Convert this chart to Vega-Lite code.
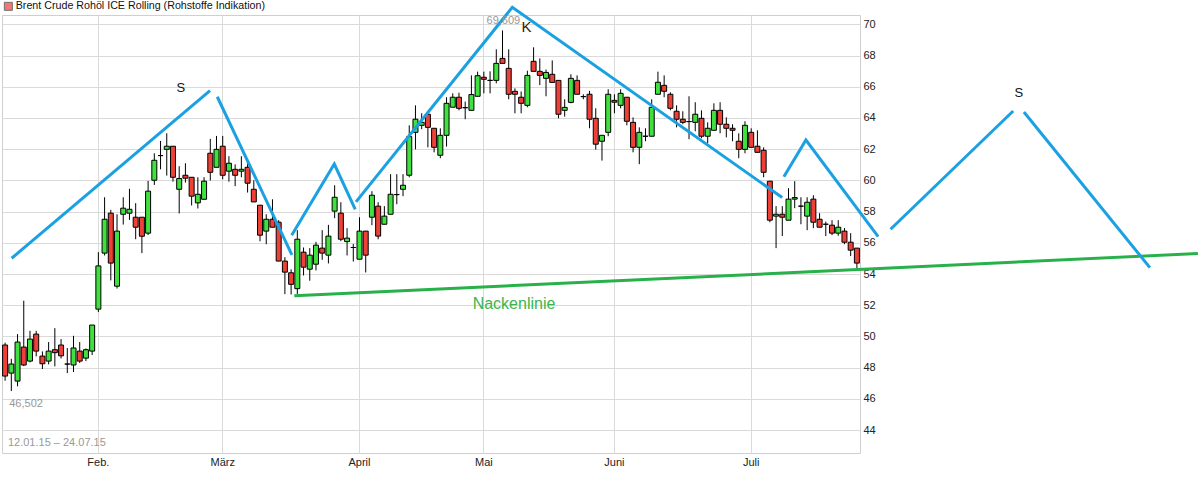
{
  "$schema": "https://vega.github.io/schema/vega-lite/v6.json",
  "width": 858,
  "height": 438,
  "autosize": "none",
  "padding": {"left": 2, "top": 15, "right": 338, "bottom": 37},
  "background": "white",
  "config": {
    "font": "Liberation Sans",
    "view": {"stroke": "#cfcfcf"},
    "axis": {"labelFont": "Liberation Sans", "labelFontSize": 11, "labelColor": "#222222", "gridColor": "#dadada", "domain": false, "ticks": false},
    "text": {"font": "Liberation Sans"}
  },
  "datasets": {
    "ohlc": [
      {"d":"2015-01-12","o":49.45,"h":49.6,"l":47.16,"c":47.46},
      {"d":"2015-01-13","o":47.65,"h":48.57,"l":46.5,"c":48.23},
      {"d":"2015-01-14","o":47.14,"h":50.15,"l":46.8,"c":49.64},
      {"d":"2015-01-15","o":49.32,"h":52.29,"l":48.1,"c":48.17},
      {"d":"2015-01-16","o":48.42,"h":50.36,"l":48.34,"c":49.83},
      {"d":"2015-01-19","o":50.15,"h":50.36,"l":48.72,"c":49.06},
      {"d":"2015-01-20","o":48.74,"h":49.04,"l":47.91,"c":48.25},
      {"d":"2015-01-21","o":48.42,"h":49.64,"l":48.21,"c":49.06},
      {"d":"2015-01-22","o":49.15,"h":50.53,"l":48.08,"c":48.96},
      {"d":"2015-01-23","o":49.45,"h":49.83,"l":48.59,"c":48.76},
      {"d":"2015-01-26","o":48.23,"h":49.26,"l":47.65,"c":48.23},
      {"d":"2015-01-27","o":48.17,"h":50.04,"l":47.72,"c":49.26},
      {"d":"2015-01-28","o":49.06,"h":49.64,"l":48.3,"c":48.42},
      {"d":"2015-01-29","o":48.61,"h":49.23,"l":48.42,"c":49.15},
      {"d":"2015-01-30","o":49.06,"h":50.73,"l":48.81,"c":50.73},
      {"d":"2015-02-02","o":51.75,"h":55.4,"l":51.56,"c":54.52},
      {"d":"2015-02-03","o":55.34,"h":58.92,"l":55.19,"c":57.51},
      {"d":"2015-02-04","o":57.9,"h":58.11,"l":53.59,"c":54.7},
      {"d":"2015-02-05","o":53.22,"h":57.83,"l":53.07,"c":56.75},
      {"d":"2015-02-06","o":57.83,"h":58.92,"l":57.17,"c":58.22},
      {"d":"2015-02-09","o":57.9,"h":59.46,"l":57.47,"c":58.15},
      {"d":"2015-02-10","o":57.64,"h":58.54,"l":56.23,"c":57.0},
      {"d":"2015-02-11","o":57.64,"h":57.64,"l":55.34,"c":56.42},
      {"d":"2015-02-12","o":56.62,"h":59.97,"l":56.5,"c":59.31},
      {"d":"2015-02-13","o":60.01,"h":61.74,"l":59.71,"c":61.29},
      {"d":"2015-02-16","o":61.59,"h":62.53,"l":60.71,"c":61.59},
      {"d":"2015-02-17","o":61.99,"h":63.02,"l":60.31,"c":62.19},
      {"d":"2015-02-18","o":62.19,"h":62.19,"l":59.92,"c":60.2},
      {"d":"2015-02-19","o":59.43,"h":60.91,"l":57.88,"c":60.12},
      {"d":"2015-02-20","o":60.33,"h":61.1,"l":59.86,"c":60.14},
      {"d":"2015-02-23","o":60.2,"h":60.2,"l":58.39,"c":58.99},
      {"d":"2015-02-24","o":58.56,"h":60.2,"l":58.2,"c":59.11},
      {"d":"2015-02-25","o":58.79,"h":60.2,"l":58.79,"c":59.95},
      {"d":"2015-02-26","o":61.74,"h":62.66,"l":59.99,"c":60.52},
      {"d":"2015-02-27","o":60.84,"h":62.85,"l":60.84,"c":61.99},
      {"d":"2015-03-02","o":62.19,"h":62.85,"l":60.07,"c":60.33},
      {"d":"2015-03-03","o":60.59,"h":61.55,"l":59.92,"c":61.1},
      {"d":"2015-03-04","o":60.71,"h":61.03,"l":59.63,"c":60.33},
      {"d":"2015-03-05","o":60.59,"h":61.55,"l":60.2,"c":60.71},
      {"d":"2015-03-06","o":60.84,"h":61.35,"l":59.22,"c":59.82},
      {"d":"2015-03-09","o":59.43,"h":60.01,"l":58.62,"c":58.62},
      {"d":"2015-03-10","o":58.41,"h":58.41,"l":56.1,"c":56.49},
      {"d":"2015-03-11","o":56.75,"h":57.83,"l":55.91,"c":57.51},
      {"d":"2015-03-12","o":57.51,"h":58.79,"l":57.0,"c":57.0},
      {"d":"2015-03-13","o":57.32,"h":57.45,"l":54.83,"c":54.83},
      {"d":"2015-03-16","o":54.83,"h":55.08,"l":52.71,"c":54.12},
      {"d":"2015-03-17","o":54.08,"h":54.3,"l":52.69,"c":53.34},
      {"d":"2015-03-18","o":53.06,"h":56.81,"l":52.72,"c":56.23},
      {"d":"2015-03-19","o":55.4,"h":55.7,"l":53.91,"c":54.44},
      {"d":"2015-03-20","o":54.31,"h":55.66,"l":53.57,"c":55.21},
      {"d":"2015-03-23","o":54.63,"h":56.06,"l":54.23,"c":55.85},
      {"d":"2015-03-24","o":55.66,"h":56.81,"l":54.91,"c":55.34},
      {"d":"2015-03-25","o":55.21,"h":57.15,"l":54.68,"c":56.43},
      {"d":"2015-03-26","o":58.03,"h":59.69,"l":57.58,"c":58.92},
      {"d":"2015-03-27","o":57.9,"h":58.6,"l":56.11,"c":56.23},
      {"d":"2015-03-30","o":56.08,"h":56.94,"l":55.19,"c":56.3},
      {"d":"2015-03-31","o":55.7,"h":55.93,"l":54.8,"c":55.7},
      {"d":"2015-04-01","o":54.95,"h":57.64,"l":54.95,"c":56.75},
      {"d":"2015-04-02","o":56.75,"h":56.75,"l":54.1,"c":55.21},
      {"d":"2015-04-07","o":57.64,"h":59.31,"l":57.13,"c":59.05},
      {"d":"2015-04-08","o":58.35,"h":58.6,"l":56.23,"c":56.43},
      {"d":"2015-04-09","o":57.19,"h":58.35,"l":57.19,"c":57.71},
      {"d":"2015-04-10","o":57.83,"h":60.4,"l":57.83,"c":59.11},
      {"d":"2015-04-13","o":59.09,"h":60.4,"l":58.47,"c":59.09},
      {"d":"2015-04-14","o":59.43,"h":60.4,"l":58.99,"c":59.69},
      {"d":"2015-04-15","o":60.33,"h":63.53,"l":60.2,"c":62.81},
      {"d":"2015-04-16","o":63.08,"h":64.81,"l":61.99,"c":63.92},
      {"d":"2015-04-17","o":63.53,"h":64.3,"l":63.28,"c":63.72},
      {"d":"2015-04-20","o":64.24,"h":64.3,"l":62.12,"c":63.4},
      {"d":"2015-04-21","o":63.34,"h":63.34,"l":61.8,"c":62.12},
      {"d":"2015-04-22","o":61.61,"h":63.34,"l":61.42,"c":62.89},
      {"d":"2015-04-23","o":62.89,"h":65.33,"l":62.17,"c":64.94},
      {"d":"2015-04-24","o":64.69,"h":65.58,"l":64.69,"c":65.33},
      {"d":"2015-04-27","o":65.33,"h":65.62,"l":64.49,"c":64.62},
      {"d":"2015-04-28","o":64.66,"h":65.05,"l":63.92,"c":64.66},
      {"d":"2015-04-29","o":64.49,"h":66.73,"l":64.49,"c":65.5},
      {"d":"2015-04-30","o":65.39,"h":66.97,"l":65.39,"c":66.71},
      {"d":"2015-05-01","o":66.61,"h":66.97,"l":65.58,"c":66.48},
      {"d":"2015-05-04","o":66.41,"h":66.99,"l":65.58,"c":66.41},
      {"d":"2015-05-05","o":66.41,"h":68.4,"l":66.22,"c":67.5},
      {"d":"2015-05-06","o":67.82,"h":69.61,"l":67.5,"c":67.5},
      {"d":"2015-05-07","o":67.18,"h":68.4,"l":65.2,"c":65.52},
      {"d":"2015-05-08","o":65.71,"h":65.9,"l":64.3,"c":65.52},
      {"d":"2015-05-11","o":65.33,"h":65.7,"l":64.3,"c":64.94},
      {"d":"2015-05-12","o":64.81,"h":67.03,"l":64.69,"c":66.73},
      {"d":"2015-05-13","o":67.63,"h":68.53,"l":66.99,"c":66.99},
      {"d":"2015-05-14","o":66.99,"h":67.82,"l":66.11,"c":66.73},
      {"d":"2015-05-15","o":66.54,"h":67.1,"l":65.39,"c":66.92},
      {"d":"2015-05-18","o":66.8,"h":67.69,"l":66.28,"c":66.28},
      {"d":"2015-05-19","o":66.41,"h":66.41,"l":63.98,"c":64.24},
      {"d":"2015-05-20","o":64.49,"h":65.2,"l":64.09,"c":64.68},
      {"d":"2015-05-21","o":65.0,"h":66.8,"l":64.94,"c":66.54},
      {"d":"2015-05-22","o":66.41,"h":66.73,"l":65.52,"c":65.52},
      {"d":"2015-05-25","o":65.37,"h":65.52,"l":65.2,"c":65.37},
      {"d":"2015-05-26","o":65.52,"h":65.74,"l":63.34,"c":63.92},
      {"d":"2015-05-27","o":63.98,"h":64.62,"l":61.97,"c":62.32},
      {"d":"2015-05-28","o":62.51,"h":62.89,"l":61.27,"c":62.89},
      {"d":"2015-05-29","o":63.08,"h":65.84,"l":62.83,"c":65.52},
      {"d":"2015-06-01","o":65.13,"h":65.52,"l":64.3,"c":65.01},
      {"d":"2015-06-02","o":64.81,"h":65.84,"l":64.62,"c":65.58},
      {"d":"2015-06-03","o":65.33,"h":65.33,"l":63.53,"c":63.79},
      {"d":"2015-06-04","o":63.72,"h":64.04,"l":61.8,"c":62.12},
      {"d":"2015-06-05","o":62.12,"h":63.4,"l":61.04,"c":63.08},
      {"d":"2015-06-08","o":62.83,"h":63.34,"l":62.51,"c":62.83},
      {"d":"2015-06-09","o":62.83,"h":65.2,"l":62.83,"c":64.68},
      {"d":"2015-06-10","o":65.52,"h":66.97,"l":65.52,"c":66.29},
      {"d":"2015-06-11","o":66.09,"h":66.73,"l":65.33,"c":65.71},
      {"d":"2015-06-12","o":65.52,"h":65.65,"l":64.49,"c":64.62},
      {"d":"2015-06-15","o":64.43,"h":64.81,"l":63.4,"c":63.92},
      {"d":"2015-06-16","o":63.92,"h":64.43,"l":63.6,"c":63.72},
      {"d":"2015-06-17","o":63.77,"h":65.39,"l":62.64,"c":63.77},
      {"d":"2015-06-18","o":63.72,"h":65.01,"l":63.15,"c":64.24},
      {"d":"2015-06-19","o":63.98,"h":64.49,"l":62.7,"c":62.83},
      {"d":"2015-06-22","o":62.83,"h":63.72,"l":62.38,"c":63.34},
      {"d":"2015-06-23","o":63.21,"h":64.94,"l":63.21,"c":64.49},
      {"d":"2015-06-24","o":64.49,"h":65.01,"l":63.02,"c":63.6},
      {"d":"2015-06-25","o":63.6,"h":64.04,"l":62.76,"c":63.34},
      {"d":"2015-06-26","o":63.34,"h":63.6,"l":62.51,"c":63.21},
      {"d":"2015-06-29","o":62.51,"h":63.02,"l":61.42,"c":61.99},
      {"d":"2015-06-30","o":61.99,"h":63.79,"l":61.74,"c":63.53},
      {"d":"2015-07-01","o":63.08,"h":63.34,"l":62.12,"c":62.12},
      {"d":"2015-07-02","o":62.19,"h":63.21,"l":61.8,"c":61.8},
      {"d":"2015-07-03","o":61.93,"h":62.12,"l":60.2,"c":60.52},
      {"d":"2015-07-06","o":59.95,"h":59.95,"l":57.32,"c":57.45},
      {"d":"2015-07-07","o":57.71,"h":58.35,"l":55.66,"c":57.83},
      {"d":"2015-07-08","o":57.83,"h":58.35,"l":56.43,"c":57.64},
      {"d":"2015-07-09","o":57.45,"h":59.5,"l":57.45,"c":58.8},
      {"d":"2015-07-10","o":58.8,"h":59.95,"l":58.22,"c":58.9},
      {"d":"2015-07-13","o":58.35,"h":58.92,"l":57.19,"c":58.35},
      {"d":"2015-07-14","o":57.71,"h":58.92,"l":56.81,"c":58.6},
      {"d":"2015-07-15","o":58.8,"h":59.05,"l":56.94,"c":57.32},
      {"d":"2015-07-16","o":57.51,"h":57.9,"l":57.0,"c":57.0},
      {"d":"2015-07-17","o":57.19,"h":57.36,"l":56.43,"c":57.19},
      {"d":"2015-07-20","o":57.13,"h":57.45,"l":56.49,"c":56.62},
      {"d":"2015-07-21","o":56.62,"h":57.45,"l":56.45,"c":57.0},
      {"d":"2015-07-22","o":56.75,"h":56.95,"l":55.91,"c":56.04},
      {"d":"2015-07-23","o":56.04,"h":56.62,"l":55.15,"c":55.53},
      {"d":"2015-07-24","o":55.66,"h":55.66,"l":54.38,"c":54.7}
    ],
    "blue": [
      {"seg":"1","t":"2015-01-14T04:00:00Z","v":55.01},
      {"seg":"1","t":"2015-02-27T19:00:00Z","v":65.75},
      {"seg":"2","t":"2015-03-01T10:00:00Z","v":65.36},
      {"seg":"2","t":"2015-03-18T05:00:00Z","v":55.23},
      {"seg":"3","t":"2015-03-18T04:00:00Z","v":56.49},
      {"seg":"3","t":"2015-03-27T18:00:00Z","v":61.05},
      {"seg":"3","t":"2015-04-01T11:00:00Z","v":58.15},
      {"seg":"4","t":"2015-04-01T15:00:00Z","v":58.62},
      {"seg":"4","t":"2015-05-06T19:00:00Z","v":71.09},
      {"seg":"4","t":"2015-07-06T12:00:00Z","v":58.9},
      {"seg":"5","t":"2015-07-06T21:00:00Z","v":60.24},
      {"seg":"5","t":"2015-07-11T20:00:00Z","v":62.59},
      {"seg":"5","t":"2015-07-28T02:00:00Z","v":56.4},
      {"seg":"6","t":"2015-07-30T21:00:00Z","v":56.87},
      {"seg":"6","t":"2015-08-27T11:00:00Z","v":64.45},
      {"seg":"7","t":"2015-08-29T21:00:00Z","v":64.38},
      {"seg":"7","t":"2015-09-27T05:00:00Z","v":54.41}
    ],
    "neck": [
      {"t":"2015-03-18T18:00:00Z","v":52.6},
      {"t":"2015-10-08T00:00:00Z","v":55.31}
    ],
    "notes": [
      {"kind":"shoulder","t":"2015-02-21T05:00:00Z","v":65.9,"txt":"S"},
      {"kind":"shoulder","t":"2015-08-28T18:00:00Z","v":65.62,"txt":"S"},
      {"kind":"head","t":"2015-05-10T00:00:00Z","v":69.85,"txt":"K"},
      {"kind":"neck","t":"2015-05-07T04:00:00Z","v":52.09,"txt":"Nackenlinie"},
      {"kind":"info","t":"2015-05-01T00:00:00Z","v":70.23,"txt":"69,609"},
      {"kind":"info","t":"2015-01-13T15:00:00Z","v":45.68,"txt":"46,502"},
      {"kind":"info","t":"2015-01-13T08:00:00Z","v":43.19,"txt":"12.01.15 – 24.07.15"}
    ]
  },
  "resolve": {"scale": {"x": "independent"}, "axis": {"x": "independent", "y": "independent"}},
  "layer": [
    {
      "data": {"name": "ohlc"},
      "mark": {"type": "rule", "color": "#000000", "strokeWidth": 1},
      "encoding": {
        "x": {
          "field": "d", "type": "ordinal",
          "scale": {"type": "band", "paddingInner": 0, "paddingOuter": 0},
          "axis": {
            "orient": "bottom", "title": null, "grid": true, "bandPosition": 0.5,
            "values": ["2015-02-02", "2015-03-02", "2015-04-01", "2015-05-01", "2015-06-01", "2015-07-01"],
            "labelExpr": "datum.value == '2015-02-02' ? 'Feb.' : datum.value == '2015-03-02' ? 'März' : datum.value == '2015-04-01' ? 'April' : datum.value == '2015-05-01' ? 'Mai' : datum.value == '2015-06-01' ? 'Juni' : 'Juli'",
            "labelAngle": 0, "labelPadding": 3, "labelBaseline": "top", "labelOverlap": false
          }
        },
        "y": {
          "field": "l", "type": "quantitative",
          "scale": {"domain": [42.53, 70.6], "nice": false, "zero": false},
          "axis": {
            "orient": "right", "title": null, "grid": true,
            "values": [44, 46, 48, 50, 52, 54, 56, 58, 60, 62, 64, 66, 68, 70],
            "labelPadding": 3, "labelBaseline": "middle", "labelAlign": "left"
          }
        },
        "y2": {"field": "h"}
      }
    },
    {
      "data": {"name": "ohlc"},
      "mark": {"type": "bar", "width": 5, "stroke": "#000000", "strokeWidth": 1},
      "encoding": {
        "x": {"field": "d", "type": "ordinal", "scale": {"type": "band", "paddingInner": 0, "paddingOuter": 0}, "axis": null},
        "y": {"field": "o", "type": "quantitative", "axis": null},
        "y2": {"field": "c"},
        "fill": {"condition": {"test": "datum.c > datum.o", "value": "#3ee13e"}, "value": "#ee4036"}
      }
    },
    {
      "data": {"name": "neck"},
      "mark": {"type": "line", "color": "#28b04a", "strokeWidth": 3, "clip": false},
      "encoding": {
        "x": {"field": "t", "type": "temporal", "axis": null,
          "scale": {"type": "utc", "nice": false, "domain": [{"year": 2015, "month": 1, "date": 12, "utc": true}, {"year": 2015, "month": 7, "date": 24, "utc": true}]}},
        "y": {"field": "v", "type": "quantitative", "axis": null}
      }
    },
    {
      "data": {"name": "blue"},
      "mark": {"type": "line", "color": "#1ba1e2", "strokeWidth": 3, "clip": false},
      "encoding": {
        "x": {"field": "t", "type": "temporal", "axis": null,
          "scale": {"type": "utc", "nice": false, "domain": [{"year": 2015, "month": 1, "date": 12, "utc": true}, {"year": 2015, "month": 7, "date": 24, "utc": true}]}},
        "y": {"field": "v", "type": "quantitative", "axis": null},
        "detail": {"field": "seg"}
      }
    },
    {
      "data": {"name": "notes"},
      "transform": [{"filter": "datum.kind == 'shoulder'"}],
      "mark": {"type": "text", "fontSize": 13, "color": "#111111", "align": "center", "baseline": "middle", "clip": false},
      "encoding": {
        "x": {"field": "t", "type": "temporal", "axis": null,
          "scale": {"type": "utc", "nice": false, "domain": [{"year": 2015, "month": 1, "date": 12, "utc": true}, {"year": 2015, "month": 7, "date": 24, "utc": true}]}},
        "y": {"field": "v", "type": "quantitative", "axis": null},
        "text": {"field": "txt"}
      }
    },
    {
      "data": {"name": "notes"},
      "transform": [{"filter": "datum.kind == 'head'"}],
      "mark": {"type": "text", "fontSize": 15, "color": "#3a1a0a", "align": "center", "baseline": "middle"},
      "encoding": {
        "x": {"field": "t", "type": "temporal", "axis": null,
          "scale": {"type": "utc", "nice": false, "domain": [{"year": 2015, "month": 1, "date": 12, "utc": true}, {"year": 2015, "month": 7, "date": 24, "utc": true}]}},
        "y": {"field": "v", "type": "quantitative", "axis": null},
        "text": {"field": "txt"}
      }
    },
    {
      "data": {"name": "notes"},
      "transform": [{"filter": "datum.kind == 'neck'"}],
      "mark": {"type": "text", "fontSize": 16, "color": "#3cb54a", "align": "center", "baseline": "middle"},
      "encoding": {
        "x": {"field": "t", "type": "temporal", "axis": null,
          "scale": {"type": "utc", "nice": false, "domain": [{"year": 2015, "month": 1, "date": 12, "utc": true}, {"year": 2015, "month": 7, "date": 24, "utc": true}]}},
        "y": {"field": "v", "type": "quantitative", "axis": null},
        "text": {"field": "txt"}
      }
    },
    {
      "data": {"name": "notes"},
      "transform": [{"filter": "datum.kind == 'info'"}],
      "mark": {"type": "text", "fontSize": 11, "color": "#999999", "align": "left", "baseline": "middle"},
      "encoding": {
        "x": {"field": "t", "type": "temporal", "axis": null,
          "scale": {"type": "utc", "nice": false, "domain": [{"year": 2015, "month": 1, "date": 12, "utc": true}, {"year": 2015, "month": 7, "date": 24, "utc": true}]}},
        "y": {"field": "v", "type": "quantitative", "axis": null},
        "text": {"field": "txt"}
      }
    },
    {
      "data": {"name": "ohlc"},
      "transform": [{"filter": "false"}],
      "mark": {"type": "square"},
      "encoding": {
        "x": {"field": "d", "type": "ordinal", "axis": null},
        "y": {"field": "c", "type": "quantitative", "axis": null},
        "color": {
          "datum": "Brent Crude Rohöl ICE Rolling (Rohstoffe Indikation)",
          "scale": {"range": ["#ee4036"]},
          "legend": {
            "orient": "none", "legendX": 1, "legendY": -14, "title": null, "padding": 0,
            "symbolType": "square", "symbolSize": 64, "symbolStrokeColor": "#333333", "symbolStrokeWidth": 1,
            "symbolFillColor": "#ee4036",
            "labelFont": "Liberation Sans", "labelFontSize": 10.7, "labelColor": "#111111", "labelOffset": 2, "labelLimit": 400
          }
        }
      }
    }
  ]
}
